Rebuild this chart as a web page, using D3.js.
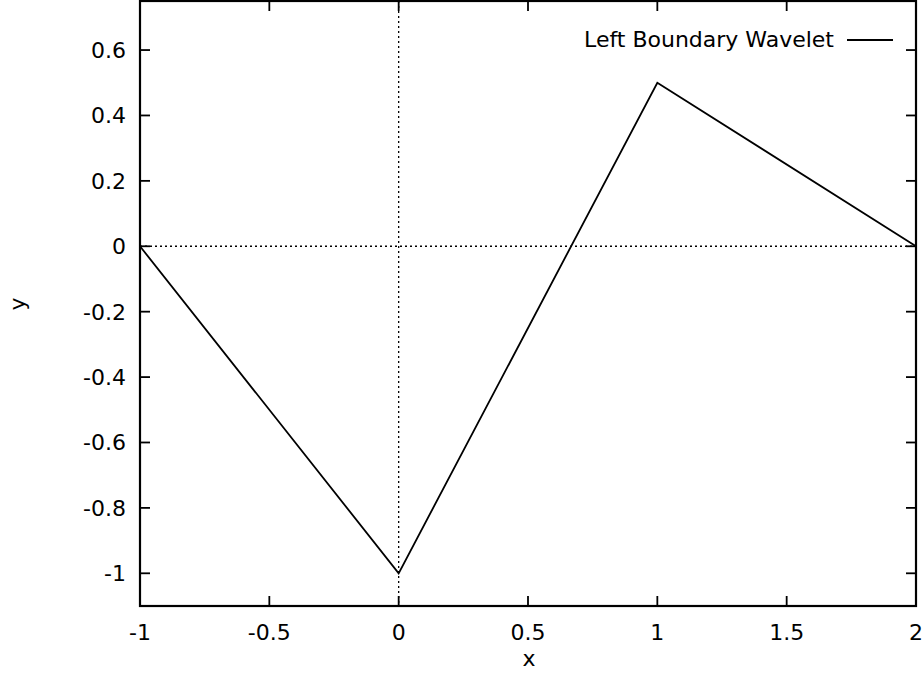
<!DOCTYPE html>
<meta charset="utf-8">
<style>
body { margin: 0; background: white; }
text { font-family: "DejaVu Sans", sans-serif; font-size: 22px; fill: black; }
.zero { stroke: black; stroke-width: 1.3; stroke-dasharray: 2,3; }
</style>
<svg width="923" height="673"></svg>
<script src="https://d3js.org/d3.v7.min.js"></script>
<script>
// wavelet vertices
var xs = [-1, 0, 1, 2];
var ys = [0, -1, 0.5, 0];
var xTicks = [-1, -0.5, 0, 0.5, 1, 1.5, 2];
var yTicks = [-1, -0.8, -0.6, -0.4, -0.2, 0, 0.2, 0.4, 0.6];
var legendLabel = "Left Boundary Wavelet";

var svg = d3.select("svg");
var L = 140, R = 916, T = 1, B = 606;

var x = d3.scaleLinear().domain([-1, 2]).range([L, R]);
var y = d3.scaleLinear().domain([-1.1, 0.75]).range([B, T]);

// zero lines
svg.append("line").attr("class", "zero")
    .attr("x1", L).attr("x2", R).attr("y1", y(0)).attr("y2", y(0));
svg.append("line").attr("class", "zero")
    .attr("x1", x(0)).attr("x2", x(0)).attr("y1", T).attr("y2", B);

// frame
svg.append("rect")
    .attr("x", L).attr("y", T).attr("width", R - L).attr("height", B - T)
    .attr("fill", "none").attr("stroke", "black").attr("stroke-width", 2.2);

// ticks, mirrored inward on all sides
var tk = 10;
var g = svg.append("g").attr("stroke", "black").attr("stroke-width", 1.8);
xTicks.forEach(function(v) {
    g.append("line").attr("x1", x(v)).attr("x2", x(v)).attr("y1", B).attr("y2", B - tk);
    g.append("line").attr("x1", x(v)).attr("x2", x(v)).attr("y1", T).attr("y2", T + tk);
});
yTicks.forEach(function(v) {
    g.append("line").attr("x1", L).attr("x2", L + tk).attr("y1", y(v)).attr("y2", y(v));
    g.append("line").attr("x1", R).attr("x2", R - tk).attr("y1", y(v)).attr("y2", y(v));
});

svg.selectAll(".xl").data(xTicks).enter().append("text")
    .attr("x", function(d) { return x(d); })
    .attr("y", 640)
    .style("text-anchor", "middle")
    .text(function(d) { return d; });

svg.selectAll(".yl").data(yTicks).enter().append("text")
    .attr("x", 126)
    .attr("y", function(d) { return y(d) + 8; })
    .style("text-anchor", "end")
    .text(function(d) { return d; });

svg.append("text").attr("x", 529).attr("y", 666).style("text-anchor", "middle").text("x");
svg.append("text").attr("transform", "translate(25,304) rotate(-90)")
    .style("text-anchor", "middle").text("y");

// data line
var pts = xs.map(function(d, i) { return [d, ys[i]]; });
svg.append("path")
    .attr("d", d3.line().x(function(d) { return x(d[0]); }).y(function(d) { return y(d[1]); })(pts))
    .attr("fill", "none").attr("stroke", "black").attr("stroke-width", 1.8);

// legend
svg.append("text").attr("x", 834).attr("y", 47).style("text-anchor", "end").text(legendLabel);
svg.append("line").attr("x1", 847).attr("x2", 893).attr("y1", 40).attr("y2", 40)
    .attr("stroke", "black").attr("stroke-width", 1.8);
</script>
